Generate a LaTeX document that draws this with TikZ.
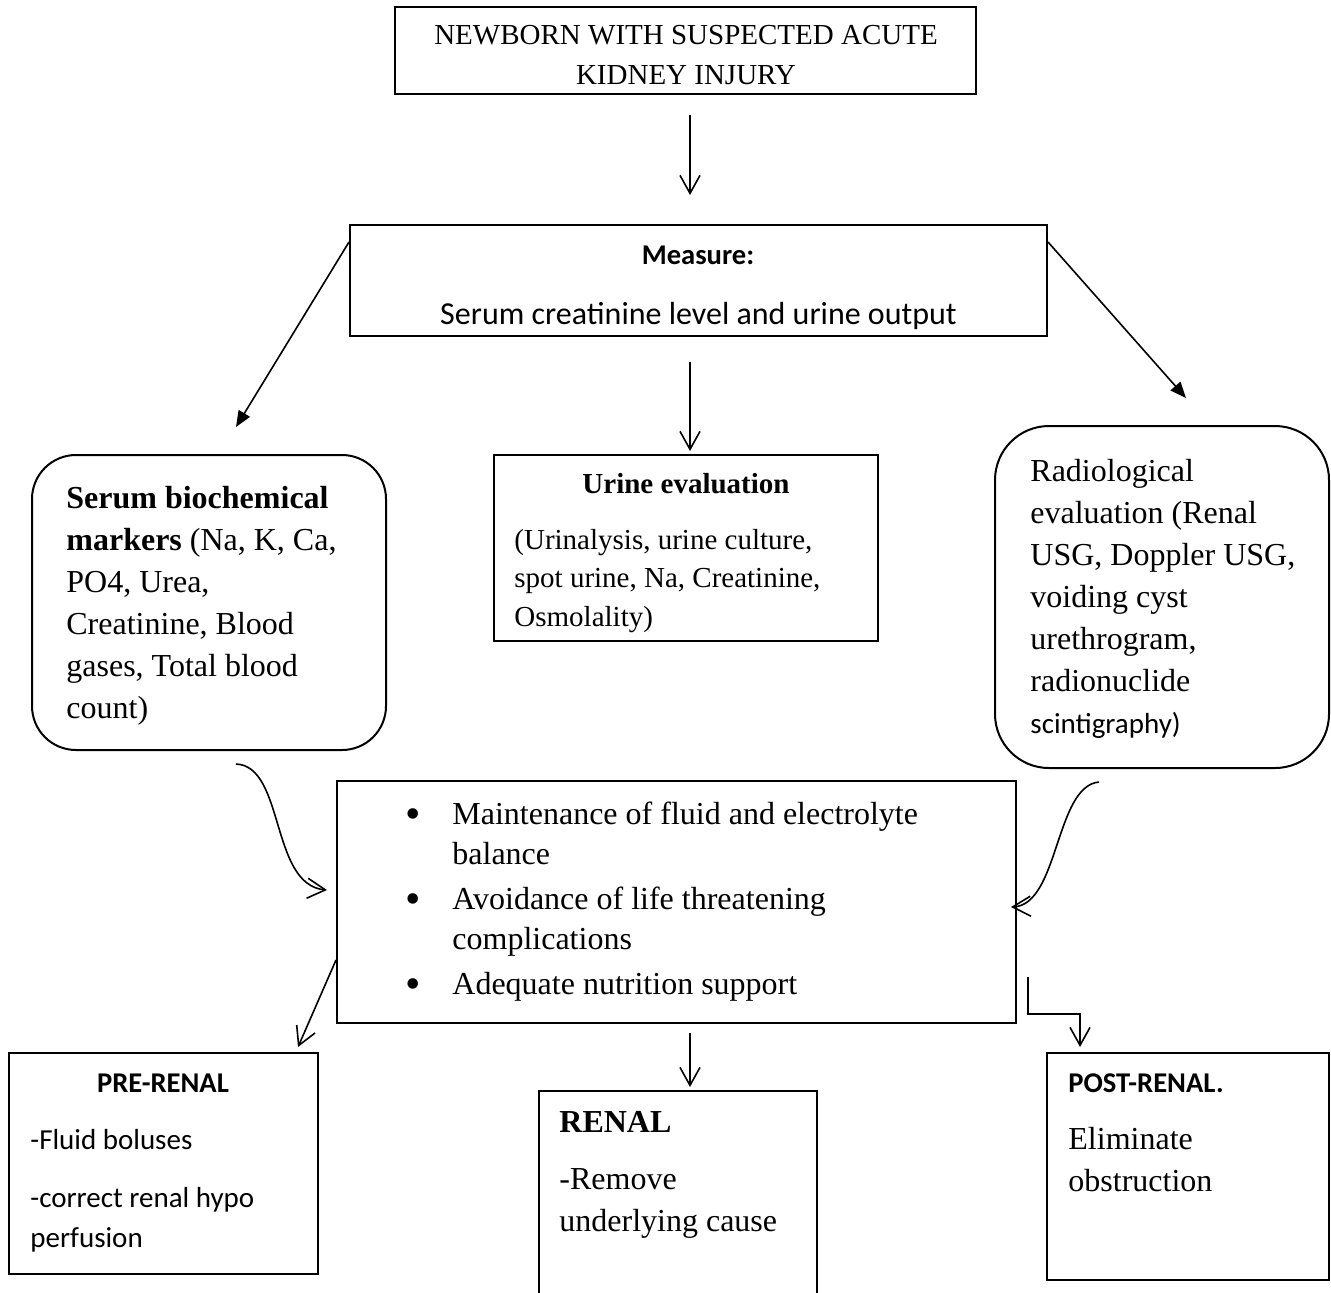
\documentclass[tikz,border=0pt]{standalone}
\usepackage{fontspec}
\setmainfont{Liberation Serif}
\newfontfamily\calib{Carlito}
\usetikzlibrary{arrows.meta,calc,fit}
\newcommand\bigdot{\llap{\raisebox{-2.3pt}{\fontsize{22}{20}\selectfont\textbullet}\hspace{16pt}}}
\begin{document}
\begin{tikzpicture}[x=0.5pt,y=-0.5pt,
  box/.style={draw, line width=1pt, inner sep=0pt},
  rbox/.style={box, rounded corners=22pt},
  txt/.style={inner sep=0pt, align=left, font=\fontsize{16}{21}\selectfont},
  hdr/.style={txt, font=\calib\bfseries\fontsize{14.3}{17}\selectfont},
  arr/.style={line width=0.8pt, -{Straight Barb[length=9pt,width=10pt]}},
  farr/.style={line width=0.8pt, -{Triangle[length=8pt,width=6.5pt]}}]
\useasboundingbox (0,0) rectangle (1331,1292);
\clip (0,0) rectangle (1331,1292);
\node[box, fit={(395,7) (976,94)}] (top) {};
\node[box, fit={(350,225) (1047,336)}] (meas) {};
\node[rbox, fit={(32,455) (386,750)}] (serum) {};
\node[box, fit={(494,455) (878,641)}] (urine) {};
\node[rbox, rounded corners=27pt, fit={(995,426) (1329,768)}] (radio) {};
\node[box, fit={(337,781) (1016,1023)}] (mid) {};
\node[box, fit={(8.5,1053) (318,1274)}] (pre) {};
\node[box, fit={(539,1091) (817,1310)}] (renal) {};
\node[box, fit={(1047,1053) (1329,1280)}] (post) {};
\node[txt, anchor=base, align=center, font=\fontsize{14.5}{20}\selectfont] (topt) at (686,84.5) {NEWBORN WITH SUSPECTED ACUTE\\KIDNEY INJURY};
\node[hdr, anchor=base] (meast) at (698,264) {Measure:};
\node[txt, anchor=base, font=\calib\fontsize{16}{19}\selectfont] (measl) at (698.5,324) {Serum creatinine level and urine output};
\node[txt, anchor=base west] (serumt) at (66,718) {\textbf{Serum biochemical}\\\textbf{markers} (Na, K, Ca,\\PO4, Urea,\\Creatinine, Blood\\gases, Total blood\\count)};
\node[txt, anchor=base, font=\bfseries\fontsize{14.5}{21}\selectfont] (urinet) at (686,493) {Urine evaluation};
\node[txt, anchor=base west, font=\fontsize{14.5}{19.25}\selectfont] (urinel) at (514,626) {(Urinalysis, urine culture,\\spot urine, Na, Creatinine,\\Osmolality)};
\node[txt, anchor=base west] (radiot) at (1030,733) {Radiological\\evaluation (Renal\\USG, Doppler USG,\\voiding cyst\\urethrogram,\\radionuclide\\{\calib\fontsize{14.5}{21}\selectfont scintigraphy)}};
\node[txt, anchor=base west, font=\fontsize{16}{20}\selectfont] (midt) at (452,994) {\bigdot Maintenance of fluid and electrolyte\\balance\\[2.5pt]\bigdot Avoidance of life threatening\\complications\\[2.5pt]\bigdot Adequate nutrition support};
\node[hdr, anchor=base] (pret) at (163,1092) {PRE-RENAL};
\node[txt, anchor=base west, font=\calib\fontsize{14.5}{20}\selectfont] (prel) at (30,1247) {-Fluid boluses\\[9pt]-correct renal hypo\\perfusion};
\node[txt, anchor=base west, font=\bfseries\fontsize{16}{19}\selectfont] (renalt) at (559,1132) {RENAL};
\node[txt, anchor=base west] (renall) at (559,1231) {-Remove\\underlying cause};
\node[hdr, anchor=base west] (postt) at (1068,1092) {POST-RENAL.};
\node[txt, anchor=base west] (postl) at (1068,1191) {Eliminate\\obstruction};
\draw[arr] ($(top.south)+(4.5,20)$) -- ($(meas.north)+(-8.5,-29)$);
\draw[farr] ($(meas.north west)+(0,18)$) -- ($(serum.north)+(27,-27)$);
\draw[farr] ($(meas.north east)+(0,18)$) -- ($(radio.north)+(24,-27)$);
\draw[arr] ($(meas.south)+(-8.5,25)$) -- ($(urine.north)+(4,-3)$);
\coordinate (lcs) at ($(serum.south)+(27,13)$);
\coordinate (lce) at ($(mid.west)+(-9,-12)$);
\draw[arr] (lcs) .. controls ($(lcs)+(49,2)$) and ($(lce)+(-57,-5)$) .. (lce);
\coordinate (rcs) at ($(radio.south)+(-63,13)$);
\coordinate (rce) at ($(mid.east)+(-6,5)$);
\draw[arr] (rcs) .. controls ($(rcs)+(-44,4)$) and ($(rce)+(48,-2)$) .. (rce);
\draw[arr] ($(mid.west)+(0,58)$) -- ($(pre.north east)+(-21,-5)$);
\draw[arr] ($(mid.south)+(13.5,9)$) -- ($(renal.north)+(12,-3)$);
\draw[arr] ($(mid.east)+(11,75)$) -- ++(0,37) -| ($(post.north west)+(34,-5)$);
\end{tikzpicture}
\end{document}
